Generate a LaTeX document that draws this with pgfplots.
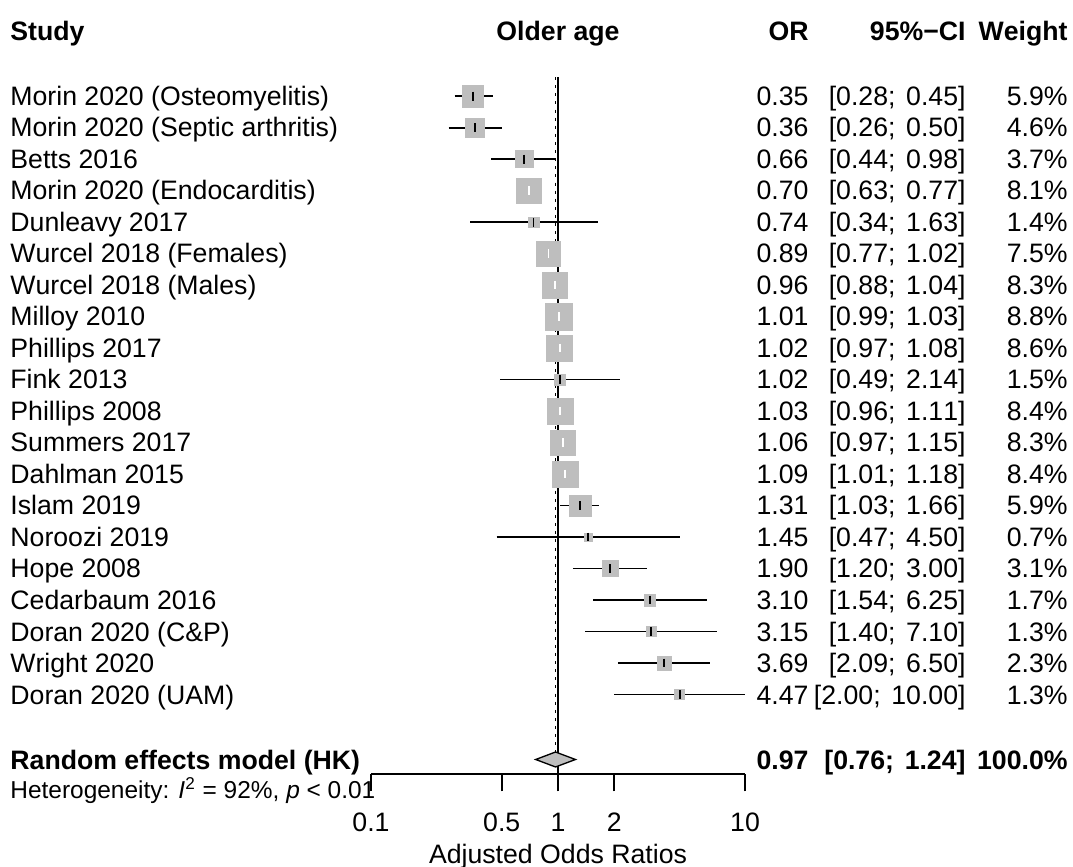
\documentclass[border=0pt]{standalone}
\usepackage{fontspec}
\setmainfont[Kerning=Off]{Liberation Sans}
\usepackage{pgfplots}
\usepackage{pgfplotstable}
\pgfplotsset{compat=1.18}

\definecolor{boxgray}{HTML}{BEBEBE}

% r = row from the top, in = 1 when the CI fits inside the box (drawn white)
\pgfplotstableread[col sep=comma]{
r,name,or,lo,hi,w,in
0,Morin 2020 (Osteomyelitis),0.35,0.28,0.45,5.9,0
1,Morin 2020 (Septic arthritis),0.36,0.26,0.50,4.6,0
2,Betts 2016,0.66,0.44,0.98,3.7,0
3,Morin 2020 (Endocarditis),0.70,0.63,0.77,8.1,1
4,Dunleavy 2017,0.74,0.34,1.63,1.4,0
5,Wurcel 2018 (Females),0.89,0.77,1.02,7.5,1
6,Wurcel 2018 (Males),0.96,0.88,1.04,8.3,1
7,Milloy 2010,1.01,0.99,1.03,8.8,1
8,Phillips 2017,1.02,0.97,1.08,8.6,1
9,Fink 2013,1.02,0.49,2.14,1.5,0
10,Phillips 2008,1.03,0.96,1.11,8.4,1
11,Summers 2017,1.06,0.97,1.15,8.3,1
12,Dahlman 2015,1.09,1.01,1.18,8.4,1
13,Islam 2019,1.31,1.03,1.66,5.9,0
14,Noroozi 2019,1.45,0.47,4.50,0.7,0
15,Hope 2008,1.90,1.20,3.00,3.1,0
16,Cedarbaum 2016,3.10,1.54,6.25,1.7,0
17,Doran 2020 (C\&P),3.15,1.40,7.10,1.3,0
18,Wright 2020,3.69,2.09,6.50,2.3,0
19,Doran 2020 (UAM),4.47,2.00,10.00,1.3,0
}\studies

\begin{document}
\begin{tikzpicture}
\begin{axis}[
  scale only axis,
  width=168.3pt, height=348.4pt,
  xmode=log, xmin=0.1, xmax=10,
  ymin=-21.533, ymax=3.048,
  hide y axis,
  axis x line*=bottom,
  x axis line style={-, line width=0.85pt},
  xtick={0.1,0.5,1,2,10},
  xticklabels={0.1,0.5,1,2,10},
  minor xtick={},
  tick align=outside,
  major tick length=7.65pt,
  tick style={black, line width=0.85pt},
  xticklabel style={font=\fontsize{12}{14}\selectfont, anchor=base, inner sep=0pt, yshift=-18.1pt},
  xlabel={Adjusted Odds Ratios},
  xlabel style={at={(axis description cs:0.5,0)}, anchor=base, inner sep=0pt, yshift=-40.1pt, font=\fontsize{12}{14}\selectfont},
  clip=false,
]
% reference line and random effects estimate
\addplot[black, line width=0.85pt] coordinates {(1,0.603) (1,-21.533)};
\addplot[black, line width=0.85pt, dash pattern=on 1.35pt off 2.3pt] coordinates {(0.97,0.603) (0.97,-20.83)};

% study boxes, area by weight
\addplot[scatter, only marks, mark=square*,
  scatter/use mapped color={draw=boxgray, fill=boxgray},
  mark options={line width=0.2pt},
  visualization depends on={2.0*sqrt(\thisrow{w}) \as \msz},
  scatter/@pre marker code/.append style={/tikz/mark size=\msz}]
  table[x=or, y expr=-\thisrow{r}] {\studies};

% confidence intervals
\pgfplotsforeachungrouped \i in {0,...,19}{
  \pgfplotstablegetelem{\i}{lo}\of\studies \let\lo\pgfplotsretval
  \pgfplotstablegetelem{\i}{hi}\of\studies \let\hi\pgfplotsretval
  \pgfplotstablegetelem{\i}{or}\of\studies \let\orv\pgfplotsretval
  \pgfplotstablegetelem{\i}{in}\of\studies \let\inb\pgfplotsretval
  \edef\ci{\ifnum\inb=1 white\else black\fi}
  \edef\temp{\noexpand\addplot[\ci, line width=0.85pt] coordinates {(\lo,-\i) (\hi,-\i)};
    \noexpand\addplot[\ci, only marks, mark=|, mark size=2pt, mark options={line width=0.85pt}] coordinates {(\orv,-\i)};}
  \temp
}

% random effects diamond
\addplot[fill=boxgray, draw=black, line width=0.6pt] coordinates {(0.76,-21.063) (0.97,-20.825) (1.24,-21.063) (0.97,-21.30)} -- cycle;
\end{axis}

\begin{scope}[x=0.45pt, y=-0.45pt, shift={(-371,-774.3)},
  every node/.style={inner sep=0pt, font=\fontsize{12}{14}\selectfont}]
% headers
\node[anchor=base west] at (10,41) {\bfseries Study};
\node[anchor=base] at (558,41) {\bfseries Older age};
\node[anchor=base east] at (809,41) {\bfseries OR};
\node[anchor=base east] at (966,41) {\bfseries 95\%−CI};
\node[anchor=base east] at (1068,41) {\bfseries Weight};

% study rows
\pgfplotstablegetrowsof{\studies}
\pgfmathtruncatemacro\lastrow{\pgfplotsretval-1}
\foreach \i in {0,...,\lastrow}{
  \pgfplotstablegetelem{\i}{name}\of\studies \let\nm\pgfplotsretval
  \pgfplotstablegetelem{\i}{or}\of\studies \let\orv\pgfplotsretval
  \pgfplotstablegetelem{\i}{lo}\of\studies \let\lo\pgfplotsretval
  \pgfplotstablegetelem{\i}{hi}\of\studies \let\hi\pgfplotsretval
  \pgfplotstablegetelem{\i}{w}\of\studies \let\wt\pgfplotsretval
  \pgfmathsetmacro\yb{96+31.5*\i+9.5}
  \node[anchor=base west] at (10,\yb) {\nm};
  \node[anchor=base east] at (809,\yb) {\orv};
  \node[anchor=base east] at (966,\yb) {[\lo;\hspace{1.5pt} \hi]};
  \node[anchor=base east] at (1068,\yb) {\wt\%};
}

% pooled estimate
\node[anchor=base west] at (10,769.5) {\bfseries Random effects model (HK)};
\node[anchor=base east] at (809,769.5) {\bfseries 0.97};
\node[anchor=base east] at (966,769.5) {\bfseries [0.76;\hspace{1.5pt} 1.24]};
\node[anchor=base east] at (1068,769.5) {\bfseries 100.0\%};
\node[anchor=base west, font=\fontsize{11}{13}\selectfont] at (10,798.7)
  {Heterogeneity: \textit{I}\textsuperscript{2} = 92\%, \textit{p} < 0.01};

\pgfresetboundingbox
\path[use as bounding box] (0,0) rectangle (1073,866);
\end{scope}
\end{tikzpicture}
\end{document}
